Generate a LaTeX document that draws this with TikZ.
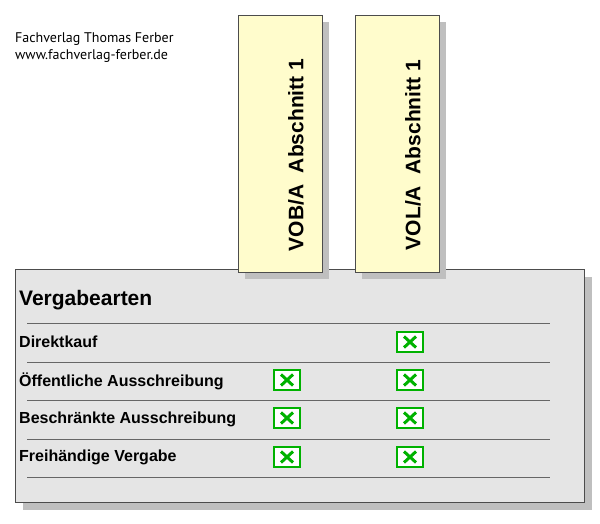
\documentclass[tikz,border=0pt]{standalone}
\usepackage{fontspec}
\setmainfont{Liberation Sans}
\newfontfamily\pubfont{PT Sans}
\begin{document}
\begin{tikzpicture}[x=1pt,y=-1pt,
  shadow/.style={fill=black!25,draw=none},
  colbox/.style={fill=yellow!20,draw=black!70,line width=0.8pt},
  sep/.style={draw=black!60,line width=0.8pt},
  rowlbl/.style={anchor=west,font=\bfseries\fontsize{16}{18}\selectfont,inner sep=0},
  chk/.style={draw=green!70!black,fill=white,line width=2.5pt,minimum width=26pt,minimum height=20pt,inner sep=0,
    path picture={\draw[green!70!black,line width=3pt] ([xshift=-6pt,yshift=-5.5pt]path picture bounding box.center) -- ([xshift=6pt,yshift=5.5pt]path picture bounding box.center) ([xshift=-6pt,yshift=5.5pt]path picture bounding box.center) -- ([xshift=6pt,yshift=-5.5pt]path picture bounding box.center);}}]
\useasboundingbox (0,0) rectangle (600,524);
\node[anchor=west,inner sep=0,font=\pubfont\fontsize{14}{16}\selectfont] (p1) at (15,39) {Fachverlag Thomas Ferber};
\node[anchor=west,inner sep=0,font=\pubfont\fontsize{14}{16}\selectfont] (p2) at (15,56) {www.fachverlag-ferber.de};
% main box
\fill[shadow] (23,277) rectangle (592,510);
\draw[fill=black!10,draw=black!70,line width=0.8pt] (15,269) rectangle (584,502);
% columns
\fill[shadow] (245,22) rectangle (329,279);
\fill[shadow] (362,22) rectangle (446,279);
\draw[colbox] (238,15) rectangle (322,272);
\draw[colbox] (355,15) rectangle (439,272);
\node[rotate=90,font=\bfseries\fontsize{21}{24}\selectfont] (c1) at (296,155) {VOB/A\ \ Abschnitt 1};
\node[rotate=90,font=\bfseries\fontsize{21}{24}\selectfont] (c2) at (413,155) {VOL/A\ \ Abschnitt 1};
\node[anchor=west,inner sep=0,font=\bfseries\fontsize{21}{24}\selectfont] (t) at (19,300) {Vergabearten};
\foreach \y in {323,362,400,439,477} \draw[sep] (27,\y) -- (550,\y);
\node[rowlbl] (r1) at (19,342) {Direktkauf};
\node[rowlbl] (r2) at (19,381) {Öffentliche Ausschreibung};
\node[rowlbl] (r3) at (19,419) {Beschränkte Ausschreibung};
\node[rowlbl] (r4) at (19,457) {Freihändige Vergabe};
\node[chk] (k12) at (410,342) {};
\node[chk] (k21) at (287,380) {};
\node[chk] (k22) at (410,380) {};
\node[chk] (k31) at (287,418) {};
\node[chk] (k32) at (410,418) {};
\node[chk] (k41) at (287,457) {};
\node[chk] (k42) at (410,457) {};
\end{tikzpicture}
\end{document}
